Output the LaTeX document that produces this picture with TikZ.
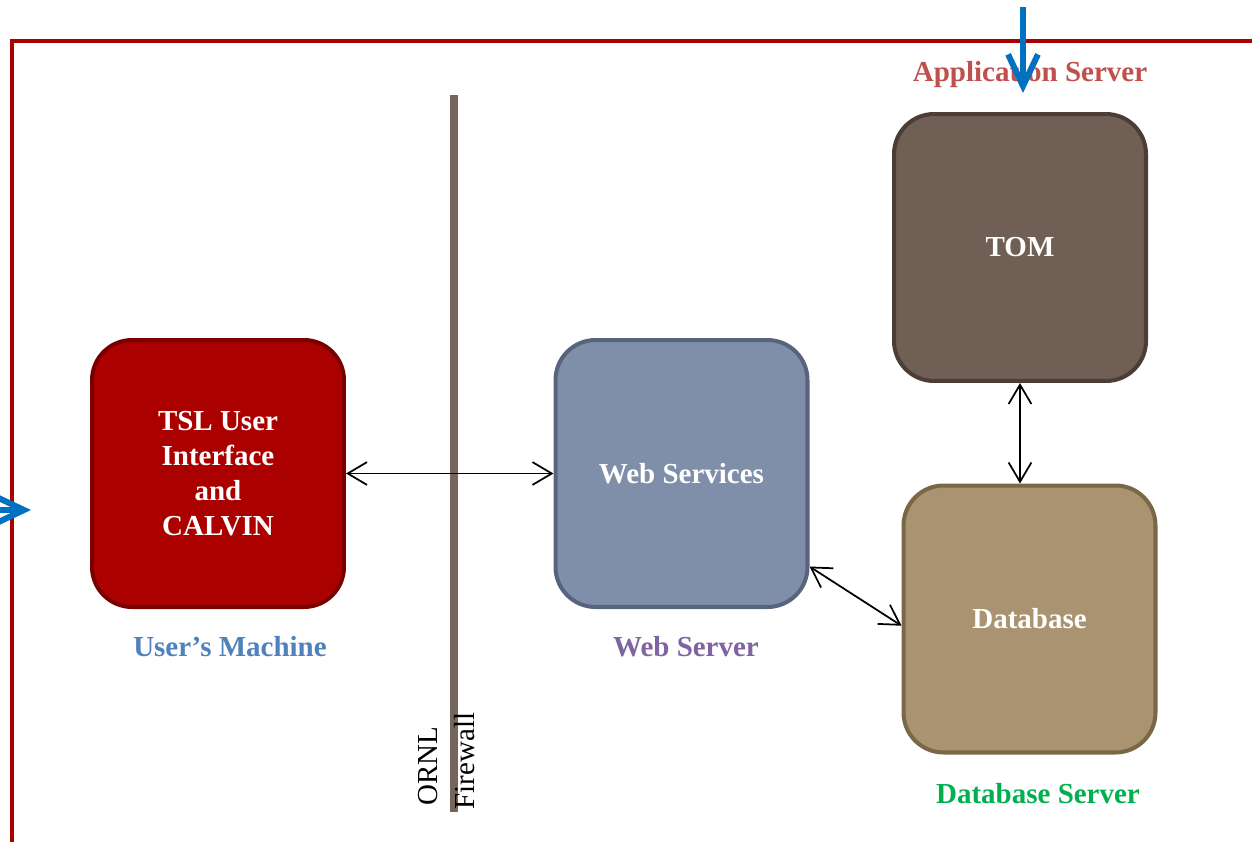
\documentclass[tikz,border=0pt]{standalone}
\usepackage{fontspec}
\setmainfont{Liberation Serif}
\usetikzlibrary{arrows.meta}
\definecolor{framered}{HTML}{AA0000}
\definecolor{feedblue}{HTML}{0070C0}
\definecolor{tslfill}{HTML}{AA0000}
\definecolor{tsldraw}{HTML}{7A0000}
\definecolor{webfill}{HTML}{7F8FA9}
\definecolor{webdraw}{HTML}{58647E}
\definecolor{tomfill}{HTML}{6F5F54}
\definecolor{tomdraw}{HTML}{4C3E36}
\definecolor{dbfill}{HTML}{AA9370}
\definecolor{dbdraw}{HTML}{786848}
\definecolor{wallgray}{HTML}{75655A}
\definecolor{userblue}{HTML}{4F81BD}
\definecolor{webpurple}{HTML}{8064A2}
\definecolor{dbgreen}{HTML}{00B050}
\definecolor{appred}{HTML}{C0504D}
\begin{document}
\begin{tikzpicture}[x=0.02cm, y=-0.02cm,
    box/.style={draw, line width=2.3pt, rounded corners=0.8cm,
        minimum width=5.04cm, minimum height=5.34cm, inner sep=0pt,
        align=center, text=white, font=\bfseries\fontsize{16.5}{20}\selectfont},
    lbl/.style={font=\bfseries\fontsize{16.5}{20}\selectfont},
    walltext/.style={rotate=90, font=\fontsize{16.5}{20}\selectfont},
    link/.style={{Straight Barb[length=11pt,width=13pt]}-{Straight Barb[length=11pt,width=13pt]}, line width=1pt},
    feed/.style={-{Straight Barb[length=18pt,width=17pt]}, line width=3.4pt, feedblue}]
    \useasboundingbox (0,0) rectangle (1252,842);
    % Draw outer frame
    \draw[framered, line width=2.8pt] (12,842) -- (12,41) -- (1252,41);
    % Draw firewall
    \draw[wallgray, line width=4.5pt] (454,95) -- (454,812);
    \node[walltext] (ornl) at (428,766) {ORNL};
    \node[walltext] (fw) at (465,761) {Firewall};
    % Draw boxes
    \node[box, fill=tslfill, draw=tsldraw] (tsl) at (218,473.5) {TSL User\\Interface\\and\\CALVIN};
    \node[box, fill=webfill, draw=webdraw] (web) at (681.5,473.5) {Web Services};
    \node[box, fill=tomfill, draw=tomdraw] (tom) at (1020,247.5) {TOM};
    \node[box, fill=dbfill, draw=dbdraw] (db) at (1029.5,619) {Database};
    % Draw labels
    \node[lbl, text=userblue] (umach) at (230,647) {User’s Machine};
    \node[lbl, text=webpurple] (wsrv) at (686,647) {Web Server};
    \node[lbl, text=dbgreen] (dbsrv) at (1038,794) {Database Server};
    \node[lbl, text=appred] (appsrv) at (1030,75) {Application Server};
    % Draw links
    \draw[link] (tsl.east) -- (web.west);
    \draw[link] (tom.south) -- (tom.south |- db.north);
    \draw[link] (web.-36) -- (db.183);
    % Draw feed arrows
    \coordinate (topin) at (1023,7);
    \coordinate (topout) at (1023,93);
    \coordinate (leftin) at (0,510);
    \coordinate (leftout) at (31,510);
    \draw[feed] (topin) -- (topout);
    \draw[feed] (leftin) -- (leftout);
\end{tikzpicture}
\end{document}
